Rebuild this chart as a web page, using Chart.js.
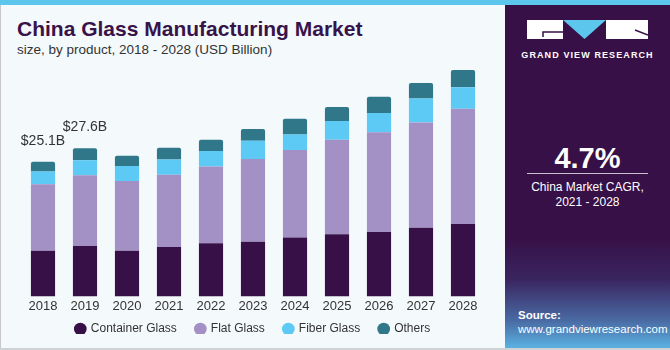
<!DOCTYPE html>
<html>
<head>
<meta charset="utf-8">
<script src="https://cdn.jsdelivr.net/npm/chart.js"></script>
<style>
  html, body { margin: 0; padding: 0; }
  body { width: 670px; height: 350px; position: relative; overflow: hidden;
         background: #f4f9fc; font-family: "Liberation Sans", Arial, sans-serif; }
  #stripe { position: absolute; left: 0; top: 0; width: 670px; height: 5px; background: #5cc6ec; }
  #leftLine { position: absolute; left: 0; top: 5px; width: 1px; height: 345px; background: #c8c8c8; }
  #bottomLine { position: absolute; left: 0; top: 348px; width: 670px; height: 2px; background: #cfd2d4; }
  #title { position: absolute; left: 17px; top: 18px; font-size: 21px; font-weight: bold;
           color: #38134a; white-space: nowrap; line-height: 1; }
  #subtitle { position: absolute; left: 17px; top: 43px; font-size: 13.5px; color: #333;
              white-space: nowrap; line-height: 1; }
  #chartBox { position: absolute; left: 0; top: 0; width: 505px; height: 348px; }
  #panel { position: absolute; left: 505px; top: 5px; width: 165px; height: 343px;
           background: linear-gradient(to bottom, #371047 0%, #371047 68%, #3a2560 80%, #4a6aa4 92%, #5ab2e2 100%); }
  #panel .txt { position: absolute; left: 0; width: 165px; text-align: center; color: #fff; white-space: nowrap; }
  #brand { top: 45px; font-size: 9px; font-weight: bold; letter-spacing: 1.1px; }
  #cagr { top: 137px; font-size: 29px; font-weight: bold; }
  #rule { position: absolute; left: 22px; top: 168px; width: 121px; height: 1px; background: #c9bfd0; }
  #cagrText { top: 175px; font-size: 12px; line-height: 15px; }
  #source { position: absolute; left: 13px; top: 303px; color: #fff; font-size: 11.5px; line-height: 14px; white-space: nowrap; }
</style>
</head>
<body>
<div id="stripe"></div>
<div id="leftLine"></div>
<div id="title">China Glass Manufacturing Market</div>
<div id="subtitle">size, by product, 2018 - 2028 (USD Billion)</div>
<div id="chartBox"><canvas id="glassChart"></canvas></div>
<div id="panel">
  <svg style="position:absolute;left:22px;top:15px" width="121" height="19" viewBox="0 0 121 19">
    <rect x="0" y="0" width="36" height="19" fill="#fff"/>
    <path d="M16 17 V12 H36" stroke="#371047" stroke-width="1.5" fill="none"/>
    <polygon points="36,0 79,0 57.5,19" fill="#5cc6ec"/>
    <rect x="79" y="0" width="42" height="19" fill="#fff"/>
    <path d="M108 10 L121 15" stroke="#371047" stroke-width="1.5" fill="none"/>
  </svg>
  <div class="txt" id="brand">GRAND VIEW RESEARCH</div>
  <div class="txt" id="cagr">4.7%</div>
  <div id="rule"></div>
  <div class="txt" id="cagrText">China Market CAGR,<br>2021 - 2028</div>
  <div id="source"><b>Source:</b><br>www.grandviewresearch.com</div>
</div>
<div id="bottomLine"></div>

<script>
(function() {
    'use strict';

    const years = ['2018', '2019', '2020', '2021', '2022', '2023', '2024', '2025', '2026', '2027', '2028'];
    const containerGlass = [8.5, 9.4, 8.5, 9.2, 9.9, 10.2, 11.0, 11.6, 12.0, 12.8, 13.5];
    const flatGlass      = [12.4, 13.2, 13.0, 13.5, 14.3, 15.4, 16.3, 17.6, 18.6, 19.6, 21.5];
    const fiberGlass     = [2.4, 2.8, 2.8, 2.8, 2.9, 3.4, 2.9, 3.5, 3.6, 4.5, 4.0];
    const others         = [1.8, 2.2, 1.9, 2.2, 2.1, 2.2, 2.9, 2.6, 3.0, 2.9, 3.2];
    // only the first two bars carry a total label
    const labelledYears = ['2018', '2019'];

    const colors = ['#381048', '#a391c5', '#5ccaf5', '#2f7789'];

    const totals = years.map((y, i) => containerGlass[i] + flatGlass[i] + fiberGlass[i] + others[i]);

    const totalLabels = {
        id: 'totalLabels',
        afterDatasetsDraw(chart) {
            const ctx = chart.ctx;
            const xScale = chart.scales.x;
            const yScale = chart.scales.y;
            ctx.save();
            ctx.font = '14px "Liberation Sans", Arial, sans-serif';
            ctx.fillStyle = '#333';
            ctx.textAlign = 'center';
            ctx.textBaseline = 'bottom';
            labelledYears.forEach((yr) => {
                const i = years.indexOf(yr);
                const x = xScale.getPixelForValue(i);
                const y = yScale.getPixelForValue(totals[i]);
                ctx.fillText('$' + totals[i].toFixed(1) + 'B', x, y - 14);
            });
            ctx.restore();
        }
    };

    // legend sits too far below the axis by default: shrink its box, then lift it
    const tightLegend = {
        id: 'tightLegend',
        beforeInit(chart) {
            const fitLegend = chart.legend.fit;
            chart.legend.fit = function() {
                fitLegend.bind(chart.legend)();
                this.height -= 11;
            };
        },
        afterLayout(chart) {
            chart.legend.top -= 12;
            chart.legend.bottom -= 12;
        }
    };

    const mk = (label, data, color, top) => ({
        label: label,
        data: data,
        backgroundColor: color,
        borderWidth: 0,
        borderRadius: top ? {topLeft: 2, topRight: 2} : 0,
        borderSkipped: top ? 'start' : true,
        barPercentage: 0.575,
        categoryPercentage: 1.0
    });

    new Chart(document.getElementById('glassChart'), {
        type: 'bar',
        data: {
            labels: years,
            datasets: [
                mk('Container Glass', containerGlass, colors[0], false),
                mk('Flat Glass', flatGlass, colors[1], false),
                mk('Fiber Glass', fiberGlass, colors[2], false),
                mk('Others', others, colors[3], true)
            ]
        },
        options: {
            responsive: true,
            maintainAspectRatio: false,
            animation: false,
            layout: { padding: { top: 55, left: 22, right: 21, bottom: 2 } },
            scales: {
                x: {
                    stacked: true,
                    grid: { display: false, drawTicks: false },
                    border: { display: false },
                    ticks: { color: '#333', padding: 2, font: { size: 13, family: '"Liberation Sans", Arial, sans-serif' } }
                },
                y: {
                    stacked: true,
                    display: false,
                    min: 0,
                    max: 45
                }
            },
            plugins: {
                legend: {
                    position: 'bottom',
                    labels: {
                        usePointStyle: true,
                        pointStyle: 'circle',
                        boxWidth: 9,
                        boxHeight: 9,
                        padding: 19,
                        color: '#333',
                        font: { size: 12, family: '"Liberation Sans", Arial, sans-serif' }
                    }
                },
                tooltip: { enabled: false }
            }
        },
        plugins: [totalLabels, tightLegend]
    });
})();
</script>
</body>
</html>
